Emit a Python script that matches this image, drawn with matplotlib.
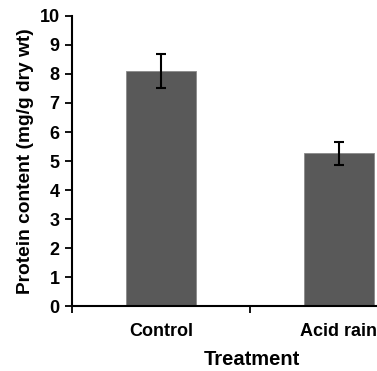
import matplotlib.pyplot as plt
from matplotlib.ticker import FixedLocator

categories = ["Control", "Acid rain"]
protein = [8.1, 5.27]
errors = [0.6, 0.4]
yticks = list(range(0, 11))

plt.rcParams["font.family"] = ["Liberation Sans", "DejaVu Sans"]
plt.rcParams["font.weight"] = "bold"

fig = plt.figure(figsize=(3.77, 3.71), dpi=100)
ax = fig.add_axes([0.191, 0.175, 0.944, 0.782])

x = list(range(len(categories)))
ax.bar(x, protein, width=0.393, color="#595959", edgecolor="#8a8a8a", linewidth=0.6,
       yerr=errors, error_kw=dict(ecolor="black", elinewidth=1.5, capsize=3.5, capthick=1.5))

ax.set_xlim(-0.5, 1.5)
ax.set_ylim(0, 10)
ax.set_yticks(yticks)
ax.set_xticks(x)
ax.set_xticklabels(categories, fontsize=13, fontweight="bold")
ax.xaxis.set_minor_locator(FixedLocator([-0.5, 0.5, 1.5]))
ax.tick_params(axis="x", which="major", length=0, pad=12)
ax.tick_params(axis="x", which="minor", length=5, width=1.3, direction="out")
ax.tick_params(axis="y", length=5, width=1.3, direction="out", labelsize=13, pad=4)
for lab in ax.get_yticklabels():
    lab.set_fontweight("bold")

for s in ["top", "right"]:
    ax.spines[s].set_visible(False)
for s in ["left", "bottom"]:
    ax.spines[s].set_linewidth(1.5)

ax.set_ylabel("Protein content (mg/g dry wt)", fontsize=13.8, fontweight="bold", labelpad=4)
fig.text(0.668, 0.03, "Treatment", ha="center", va="center", fontsize=14.5, fontweight="bold")

fig.savefig("out.png", dpi=100)
